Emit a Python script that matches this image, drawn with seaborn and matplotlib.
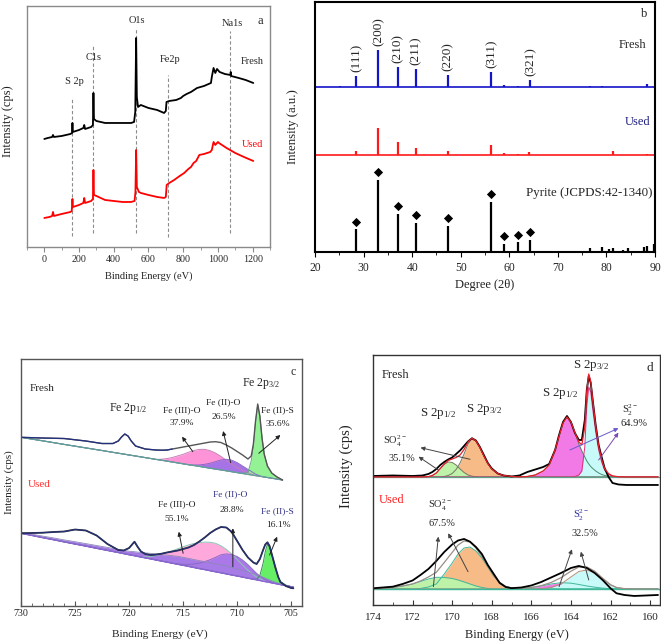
import numpy as np
import matplotlib
matplotlib.use("Agg")
import matplotlib.pyplot as plt
from matplotlib.ticker import MultipleLocator
import seaborn as sns

# ---------------- (a) XPS survey ----------------
survey_be_fresh = [0, 20, 45, 50, 55, 100, 150, 160, 162, 164, 200, 225, 230, 235, 270, 280, 283, 286,
                   300, 350, 400, 450, 500, 517, 524, 529, 533, 540, 556, 600, 650, 690, 700, 704, 720,
                   760, 787, 800, 820, 845, 880, 920, 960, 965, 975, 985, 995, 1010, 1040, 1072, 1074,
                   1076, 1120, 1160, 1204]
survey_fresh = [108, 109, 110, 112, 110, 111, 113, 114, 124, 115, 117, 119, 122, 118, 120, 122, 154, 128,
                126, 124, 124, 124, 124, 125, 135, 209, 150, 140, 142, 139, 137, 134, 136, 145, 146,
                147, 149, 151, 153, 155, 159, 161, 164, 170, 179, 174, 178, 175, 173, 172, 175,
                171, 169, 167, 164]
survey_be_used = [0, 30, 45, 50, 55, 100, 150, 158, 162, 165, 200, 225, 230, 235, 270, 280, 283, 286,
                  300, 350, 400, 450, 500, 520, 525, 529, 533, 545, 556, 600, 650, 690, 700, 705, 720,
                  748, 780, 806, 830, 845, 860, 875, 893, 920, 956, 965, 975, 985, 1000, 1006, 1050,
                  1100, 1150, 1204]
survey_used = [29, 30, 31, 35, 31, 33, 35, 36, 48, 40, 42, 44, 49, 44, 46, 48, 77, 52,
               51, 47, 46, 45, 45, 46, 55, 97, 60, 55, 54, 52, 50, 49, 50, 62, 64,
               67, 71, 74, 78, 80, 84, 86, 92, 93, 95, 97, 105, 102, 105, 104, 99,
               94, 90, 86]
survey_marks = ["S 2p", "C1s", "O1s", "Fe2p", "Na1s"]
survey_mark_be = [162, 283, 529, 711, 1072]
survey_mark_top = [150, 202, 218, 172, 216]
survey_mark_bottom = [11, 14, 14, 10, 14]

# ---------------- (b) XRD ----------------
xrd_fresh_pos = [25.1, 28.5, 33.0, 37.1, 40.8, 47.4, 56.3, 59.0, 61.7, 64.3, 76.6, 79.0, 88.4]
xrd_fresh_h = [0.6, 10.7, 36.7, 20.0, 18.3, 11.7, 15.0, 2.3, 1.3, 6.7, 1.0, 1.0, 3.3]
xrd_used_pos = [28.5, 33.0, 37.1, 40.8, 47.4, 56.3, 59.0, 61.7, 64.0, 81.3, 88.4]
xrd_used_h = [4.0, 27.3, 13.0, 6.7, 4.3, 9.7, 2.3, 1.0, 3.3, 3.7, 1.0]
pyrite_pos = [28.5, 33.0, 37.1, 40.8, 47.4, 50.5, 56.3, 59.0, 61.7, 64.3, 71.8, 76.6, 79.0, 80.6,
              81.3, 83.5, 84.5, 87.8, 88.4, 89.7]
pyrite_h = [22.7, 72.0, 38.3, 29.0, 26.0, 0.7, 50.0, 8.0, 9.7, 12.0, 1.0, 4.3, 4.7, 3.3,
            4.3, 1.7, 4.3, 5.0, 5.7, 8.3]
hkl_labels = ["(111)", "(200)", "(210)", "(211)", "(220)", "(311)", "(321)"]
hkl_pos = [28.5, 33.0, 37.1, 40.8, 47.4, 56.3, 64.3]

# ---------------- (c) Fe 2p ----------------
fe_fresh_be = [730, 728, 726, 724, 722.5, 721.5, 721, 720.7, 720.4, 720.1, 719.8, 719.4, 718.5, 717.5,
               717, 716.5, 716, 715.5, 715, 714.5, 714, 713.5, 713, 712.5, 712, 711.5, 711, 710.5,
               710, 709.5, 709, 708.7, 708.5, 708.3, 708.1, 707.9, 707.7, 707.5, 707.2, 706.8,
               706.3, 705.8]
fe_fresh_bg = [168.7, 165.2, 161.6, 158.1, 155.5, 153.7, 152.8, 152.3, 151.8, 151.2, 150.7, 150.0,
               148.4, 146.6, 145.8, 144.9, 144.0, 143.1, 142.2, 141.3, 140.5, 139.6, 138.7, 137.8,
               136.9, 136.1, 135.2, 134.3, 133.4, 132.5, 131.6, 131.1, 130.8, 130.4, 130.1, 129.7,
               129.4, 129.0, 128.5, 127.8, 126.9, 126.0]
fe_fresh_data = [168.7, 168.0, 167.5, 165.0, 162.5, 162.5, 165.0, 169.0, 172.0, 170.0, 165.0, 160.0,
                 157.0, 156.0, 155.8, 156.0, 157.0, 158.0, 159.0, 160.0, 161.0, 162.0, 163.0, 164.0,
                 164.3, 163.5, 161.0, 158.0, 154.5, 151.0, 147.0, 150.0, 162.0, 185.0, 202.0, 190.0,
                 168.0, 152.0, 140.0, 133.0, 129.0, 126.0]
fe_fresh_fe3o = [0] * 13 + [0, 1, 2.5, 4.5, 7, 9.5, 12.5, 15, 17, 18, 17.5, 16, 13.5, 10.5, 7.5, 5, 3,
                            1.5, 1, 0.5] + [0] * 9
fe_fresh_fe2o = [0] * 19 + [0, 0.5, 1.5, 3, 5, 7.5, 10, 11.5, 11.5, 10, 7.5, 5, 3.5, 2.5, 1.5, 1,
                            0.5] + [0] * 6
fe_fresh_fes = [0] * 30 + [2, 14, 28, 53, 71, 60, 38.6, 23, 11.5, 5, 2, 0]

fe_used_be = [730, 729, 728, 727, 726, 725, 724, 723, 722, 721, 720.5, 720, 719.5, 719.2, 718.9,
              718.5, 718, 717.5, 717, 716.5, 716, 715.5, 715, 714.5, 714, 713.5, 713, 712.5, 712,
              711.5, 711, 710.5, 710, 709.5, 709, 708.5, 708.2, 707.9, 707.6, 707.4, 707.2, 707,
              706.8, 706.5, 706.2, 706, 705.5, 705, 704.8]
fe_used_bg = [72.7, 70.6, 68.4, 66.3, 64.1, 62.0, 59.9, 57.7, 55.6, 53.5, 52.4, 51.3, 50.3, 49.6,
              49.0, 48.1, 47.1, 46.0, 44.9, 43.9, 42.8, 41.7, 40.7, 39.6, 38.5, 37.4, 36.4, 35.3,
              34.2, 33.2, 32.1, 31.0, 30.0, 28.9, 27.8, 26.8, 26.1, 25.5, 24.8, 24.4, 24.0, 23.6,
              23.1, 22.5, 21.9, 21.4, 20.4, 19.3, 18.9]
# purple band between the linear and the Shirley-type background
fe_used_band = [1, 1.2, 1.5, 1.8, 2, 2.3, 2.5, 2.8, 3, 3, 3.2, 3.5, 4, 4.3, 4.6, 5, 5.5, 6, 6.5, 7,
                7.5, 8, 8, 8, 8, 8, 8, 8, 8, 8, 8, 7.5, 7, 6.5, 6, 5.5, 5, 4.5, 4, 3.5,
                3, 2.5, 2, 1.5, 1, 0.7, 0.3, 0, 0]
fe_used_data = [72.7, 73.0, 73.3, 74.0, 74.5, 76.5, 75.5, 70.5, 62.0, 56.0, 55.5, 58.0, 64.3, 59.0,
                54.5, 52.0, 51.0, 51.5, 52.3, 53.5, 54.5, 55.5, 57.0, 58.5, 61.0, 64.5, 68.5, 73.0,
                76.5, 79.0, 78.5, 74.0, 65.0, 56.0, 48.5, 43.5, 42.0, 47.0, 56.0, 61.5, 63.7, 60.0,
                52.0, 40.0, 29.0, 24.0, 20.0, 18.0, 17.7]
fe_used_fe3o = [0] * 15 + [1, 2.5, 4.5, 7, 9.5, 12.5, 15.5, 18.5, 21.5, 24, 26, 27.5, 28.5, 28.5, 27,
                           24.5, 21, 16.5, 12, 8, 4.5, 3, 2, 1] + [0] * 10
fe_used_fe2o = [0] * 21 + [0.5, 1, 2, 3.5, 5.5, 8, 11, 14.5, 18, 20, 20.5, 19.5, 17, 13.5, 9, 6.5, 4.5,
                           3, 2, 1.5, 1, 0.5] + [0] * 6
fe_used_fes = [0] * 36 + [0.5, 5, 18, 30, 38, 35, 28, 16, 7, 3, 0.5, 0, 0]

# ---------------- (d) S 2p ----------------
s_fresh_be = [174, 173, 172, 171.5, 171.2, 171, 170.8, 170.6, 170.4, 170.2, 170, 169.8, 169.6, 169.4,
              169.2, 169, 168.8, 168.6, 168.4, 168.2, 168, 167.7, 167.4, 167, 166.6, 166.2, 165.8,
              165.4, 165.1, 164.8, 164.6, 164.4, 164.2, 164, 163.8, 163.6, 163.45, 163.3, 163.2,
              163.1, 163, 162.9, 162.75, 162.6, 162.45, 162.3, 162.1, 161.9, 161.6, 161.2, 160.5,
              159.6]
s_fresh_base = 128.0
s_fresh_data = [129, 129.5, 129, 129.5, 131, 133, 136, 140, 143, 145.5, 147.5, 151, 154.5, 159, 163.5,
                166.7, 164.5, 158, 150, 142, 136.5, 131.5, 129.5, 128.5, 129.5, 133, 135.5, 138, 141,
                155, 170, 183, 189, 183, 172, 165, 165, 185, 215, 229, 222, 205, 180, 160, 148, 137,
                128, 122, 120.5, 120, 120, 120]
s_fresh_so4_12 = [0] * 4 + [0.3, 1.5, 4, 8.5, 12.5, 15, 14.5, 12, 8, 4.5, 2, 0.8, 0.2] + [0] * 35
s_fresh_so4_32 = [0] * 8 + [0.5, 1.5, 3.5, 7.5, 14, 23, 33, 38, 36, 29.5, 21, 13.5, 8, 3.5, 1.5,
                            0.5] + [0] * 28
s_fresh_s2_12 = [0] * 25 + [0.5, 2, 6, 12, 27, 41, 54, 60, 55, 44, 33, 26, 20, 16, 13, 10.5, 8.5, 6,
                            4, 2.5, 1.5, 0.8, 0.3] + [0] * 4
s_fresh_s2_32 = [0] * 34 + [0.5, 2, 6, 30, 70, 90, 85, 68, 45, 27, 15, 7, 2.5, 0.8, 0.2] + [0] * 3

s_used_be = [174, 173.5, 173, 172.5, 172, 171.6, 171.2, 170.8, 170.4, 170, 169.7, 169.4, 169.1, 168.8,
             168.5, 168.2, 167.9, 167.6, 167.3, 167, 166.5, 166, 165.5, 165, 164.5, 164, 163.6,
             163.2, 162.8, 162.4, 162, 161.7, 161.3, 160.8, 160.2, 159.6]
s_used_base = 16.0
s_used_data = [16.7, 17.5, 18.3, 21, 24.5, 30, 36, 44, 53, 60.5, 64.5, 66, 63.3, 58, 51, 40, 31, 22, 18,
               16.8, 17.5, 19.5, 23, 27.5, 32, 37, 39, 37, 32, 25, 16.7, 11.7, 10, 9, 9.5, 10]
s_used_so4_a = [0, 0.5, 1.5, 3, 5, 7.5, 10, 11.7, 11.5, 10.5, 9, 7, 5, 3, 1.5, 0.5] + [0] * 20
s_used_so4_b = [0] * 5 + [0.5, 2, 5, 15, 26, 35, 41, 42, 38, 31, 22, 13, 6.5, 2.5, 1, 0.3] + [0] * 15
s_used_s2_a = [0] * 20 + [0.5, 1.5, 3, 5, 6.3, 5.8, 4.5, 3, 1.8, 0.8, 0.3] + [0] * 5
s_used_s2_b = [0] * 22 + [0.3, 1.5, 5, 12, 17.5, 19, 16, 10, 4, 1.5, 0.3] + [0] * 3

# ---------------- style ----------------
sns.set_style("ticks")
plt.rcParams["font.family"] = ["Liberation Serif", "DejaVu Serif"]
plt.rcParams["mathtext.fontset"] = "custom"
plt.rcParams["mathtext.rm"] = "Liberation Serif"
plt.rcParams["mathtext.it"] = "Liberation Serif:italic"
plt.rcParams["mathtext.bf"] = "Liberation Serif:bold"

PINK, PURPLE, LGREEN = "#ff93d8", "#a673e6", "#93f293"
SGREEN, ORANGE, MAGENTA, CYAN = "#bdf2a8", "#f6bb86", "#f27ae6", "#c8fafa"
NAVY = "#23307f"


def curve(ax, x, y, color, lw):
    sns.lineplot(x=x, y=y, ax=ax, color=color, linewidth=lw, sort=False, estimator=None)


def component(ax, x, base, height, color, edge, lw=0.7):
    top = np.asarray(base, dtype=float) + np.asarray(height, dtype=float)
    ax.fill_between(x, base, top, color=color, lw=0)
    ax.plot(x, top, color=edge, lw=lw)


def arrow(ax, tail, head, color="#222222"):
    ax.annotate("", xy=head, xytext=tail,
                arrowprops=dict(arrowstyle="-|>", color=color, lw=0.7, mutation_scale=6,
                                shrinkA=0, shrinkB=0))


def frame(ax, color, lw, direction, tsize, pad, major, minor, xlim, ylim):
    ax.set_xlim(*xlim)
    ax.set_ylim(*ylim)
    ax.set_yticks([])
    ax.xaxis.set_major_locator(MultipleLocator(major))
    ax.xaxis.set_minor_locator(MultipleLocator(minor))
    ax.tick_params(axis="x", which="major", direction=direction, length=3.5, width=0.8,
                   labelsize=tsize, pad=pad, color=color, bottom=True, top=False)
    ax.tick_params(axis="x", which="minor", direction=direction, length=2, width=0.6,
                   color=color, bottom=True, top=False)
    for s in ax.spines.values():
        s.set_color(color)
        s.set_linewidth(lw)
        s.set_visible(True)


def labels(ax, xlabel, xsize, xpos, ylabel, ysize, ypos):
    # seaborn hides the y label when there are no tick labels, so switch it back on
    ax.set_xlabel(xlabel, fontsize=xsize, color="#222222")
    ax.set_ylabel(ylabel, fontsize=ysize, color="#222222")
    ax.xaxis.label.set_visible(True)
    ax.yaxis.label.set_visible(True)
    ax.xaxis.set_label_coords(*xpos)
    ax.yaxis.set_label_coords(*ypos)


fig = plt.figure(figsize=(6.61, 6.44), dpi=100)
fig.patch.set_facecolor("white")

# ---------- (a) ----------
ax = fig.add_axes([0.0408, 0.6165, 0.3676, 0.3742])
frame(ax, "#8a8a8a", 1.0, "out", 7.2, 2, 200, 100, (-100, 1300), (0, 241))
ax.vlines(survey_mark_be, survey_mark_bottom, survey_mark_top, colors="#8c8c8c",
          linestyles=(0, (3, 2)), lw=0.8)
curve(ax, survey_be_fresh, survey_fresh, "black", 1.3)
curve(ax, survey_be_used, survey_used, "#ff0000", 1.3)
for lab, x, y in zip(survey_marks, [173, 283, 531, 722, 1085], [165, 189, 226, 187, 223]):
    ax.text(x, y, lab, ha="center", va="center", fontsize=7.5)
ax.text(1200, 185, "Fresh", ha="center", va="center", fontsize=7.5)
ax.text(1198, 102, "Used", ha="center", va="center", fontsize=7.5, color="#ff0000")
ax.text(1246, 226, "a", ha="center", va="center", fontsize=9)
labels(ax, "Binding Energy (eV)", 7.5, (0.5, -0.1), "Intensity (cps)", 9.0, (-0.055, 0.52))

# ---------- (b) ----------
ax = fig.add_axes([0.4766, 0.6087, 0.5144, 0.3882])
frame(ax, "black", 1.5, "out", 8.4, 4, 10, 5, (20, 90), (0, 250))
ax.hlines(165, 20, 90, colors="#1414c8", lw=1.2)
ax.vlines(xrd_fresh_pos, 165, 165 + np.array(xrd_fresh_h), colors="#1414c8", lw=1.6)
ax.hlines(97, 20, 90, colors="#ff1a1a", lw=1.2)
ax.vlines(xrd_used_pos, 97, 97 + np.array(xrd_used_h), colors="#ff1a1a", lw=1.6)
ax.hlines(0.3, 20, 90, colors="black", lw=1.0)
ax.vlines(pyrite_pos, 0.3, np.array(pyrite_h), colors="black", lw=1.6)
p_pos = np.array(pyrite_pos)
p_h = np.array(pyrite_h)
marked = (p_pos < 65) & (p_h > 5)
sns.scatterplot(x=p_pos[marked], y=p_h[marked] + 7.5, ax=ax, marker="D", s=22,
                color="black", edgecolor="black", linewidth=0)
for lab, pos in zip(hkl_labels, hkl_pos):
    h = xrd_fresh_h[xrd_fresh_pos.index(pos)]
    ax.text(pos, 165 + h + 4, lab, rotation=90, ha="center", va="bottom", fontsize=9.5)
ax.text(88.3, 207, "Fresh", ha="right", va="center", fontsize=9)
ax.text(89.1, 130, "Used", ha="right", va="center", fontsize=9, color="#202080")
ax.text(89.5, 59.3, "Pyrite (JCPDS:42-1340)", ha="right", va="center", fontsize=9.3)
ax.text(87.7, 238, "b", ha="center", va="center", fontsize=9)
labels(ax, "Degree (2θ)", 9, (0.5, -0.108), "Intensity (a.u.)", 9.2, (-0.047, 0.5))

# ---------- (c) ----------
ax = fig.add_axes([0.0318, 0.0590, 0.4251, 0.3835])
frame(ax, "#555555", 1.0, "in", 7.2, 2, 5, 1, (730, 704), (0, 247))
fe_fb = np.array(fe_fresh_bg)
component(ax, fe_fresh_be, fe_fb, fe_fresh_fe3o, PINK, "#c77fb8")
component(ax, fe_fresh_be, fe_fb, fe_fresh_fe2o, PURPLE, "#8a68c8")
component(ax, fe_fresh_be, fe_fb, fe_fresh_fes, LGREEN, "#6aa882")
ax.plot(fe_fresh_be, fe_fb, color="#5f9f9a", lw=0.9)
curve(ax, fe_fresh_be, fe_fresh_data, "#555555", 1.0)
left = np.array(fe_fresh_be) >= 716
curve(ax, np.array(fe_fresh_be)[left], np.array(fe_fresh_data)[left], NAVY, 0.9)

fe_ub = np.array(fe_used_bg)
component(ax, fe_used_be, fe_ub, fe_used_fe3o, "#ffa8dc", "#88c8b0")
component(ax, fe_used_be, fe_ub, fe_used_fe2o, "#ab78ea", "#8a68c8")
component(ax, fe_used_be, fe_ub, fe_used_fes, "#66ee66", "#3a8a5a")
component(ax, fe_used_be, fe_ub, fe_used_band, "#a77be6", "#8a8ab8", lw=0.6)
ax.plot(fe_used_be, fe_ub, color="#8f63d8", lw=1.0)
curve(ax, fe_used_be, fe_used_data, "#333333", 1.3)
curve(ax, fe_used_be, fe_used_data, NAVY, 0.8)

ax.text(729.2, 217.7, "Fresh", ha="left", va="center", fontsize=8)
ax.text(720.1, 197.7, r"Fe 2p$_{\mathrm{1/2}}$", ha="center", va="center", fontsize=8.5)
ax.text(707.8, 222.7, r"Fe 2p$_{\mathrm{3/2}}$", ha="center", va="center", fontsize=8.5)
ax.text(704.8, 234.3, "c", ha="center", va="center", fontsize=8.5)
for lab, x, y, col in [("Fe (III)-O", 715.1, 196, "#222222"), ("37.9%", 715.1, 182.7, "#222222"),
                       ("Fe (II)-O", 711.3, 204.3, "#222222"), ("26.5%", 711.2, 189.3, "#222222"),
                       ("Fe (II)-S", 706.3, 196, "#222222"), ("35.6%", 706.2, 182, "#222222"),
                       ("Fe (III)-O", 715.6, 102, "#222222"), ("55.1%", 715.6, 86.7, "#222222"),
                       ("Fe (II)-O", 710.6, 112, "#33338a"), ("28.8%", 710.5, 96, "#222222"),
                       ("Fe (II)-S", 706.3, 95, "#33338a"), ("16.1%", 706.2, 81, "#222222")]:
    ax.text(x, y, lab, ha="center", va="center", fontsize=6.8, color=col)
ax.text(729.4, 121.7, "Used", ha="left", va="center", fontsize=8, color="#ff3030")
for tail, head in [((714.1, 154.3), (715.1, 169.3)), ((710.6, 143.3), (711.3, 175)),
                   ((708.0, 152.7), (706.0, 171)), ((715.0, 52.7), (715.4, 74.3)),
                   ((710.4, 39.3), (710.4, 77.7)), ((707.0, 51), (706.3, 69.3))]:
    arrow(ax, tail, head)
labels(ax, "Binding Energy (eV)", 8.2, (0.495, -0.093), "Intensity (cps)", 8.0, (-0.025, 0.5))

# ---------- (d) ----------
ax = fig.add_axes([0.5643, 0.0606, 0.4342, 0.3882])
frame(ax, "#333333", 1.0, "in", 8, 6, 2, 1, (174, 159.5), (0, 250))
component(ax, s_fresh_be, s_fresh_base, s_fresh_so4_32, ORANGE, "#777766")
component(ax, s_fresh_be, s_fresh_base, s_fresh_so4_12, SGREEN, "#777766")
component(ax, s_fresh_be, s_fresh_base, s_fresh_s2_12, MAGENTA, "#4f8a6a")
component(ax, s_fresh_be, s_fresh_base, s_fresh_s2_32, CYAN, "#e0307a")
ax.hlines(s_fresh_base, 174, 159.5, colors="#5f9f8a", lw=0.9)
s_fresh_env = s_fresh_base + np.array(s_fresh_so4_12) + np.array(s_fresh_so4_32) \
    + np.array(s_fresh_s2_12) + np.array(s_fresh_s2_32)
curve(ax, s_fresh_be, s_fresh_data, "black", 1.3)
curve(ax, s_fresh_be, s_fresh_env, "#e5202a", 0.9)

component(ax, s_used_be, s_used_base, s_used_so4_b, ORANGE, "#3fb89a")
component(ax, s_used_be, s_used_base, s_used_so4_a, SGREEN, "#3fb89a")
component(ax, s_used_be, s_used_base, s_used_s2_a, MAGENTA, "#3fb89a")
component(ax, s_used_be, s_used_base, s_used_s2_b, CYAN, "#b0907a")
ax.hlines(s_used_base, 174, 159.5, colors="#3fb89a", lw=1.0)
s_used_env = s_used_base + np.array(s_used_so4_a) + np.array(s_used_so4_b) \
    + np.array(s_used_s2_a) + np.array(s_used_s2_b)
curve(ax, s_used_be, s_used_env, "#9a8f86", 0.9)
curve(ax, s_used_be, s_used_data, "black", 1.3)

ax.text(173.56, 230, "Fresh", ha="left", va="center", fontsize=9)
for lab, x, y in [(r"S 2p$_{\mathrm{1/2}}$", 170.7, 191.7), (r"S 2p$_{\mathrm{3/2}}$", 168.4, 195),
                  (r"S 2p$_{\mathrm{1/2}}$", 164.55, 211.7), (r"S 2p$_{\mathrm{3/2}}$", 163.0, 239)]:
    ax.text(x, y, lab, ha="center", va="center", fontsize=9.3)
ax.text(160.0, 236.7, "d", ha="center", va="center", fontsize=9.5)
ax.text(172.9, 163.3, r"SO$_{\mathrm{4}}^{\mathrm{2-}}$", ha="center", va="center", fontsize=7.5)
ax.text(172.55, 146.7, "35.1%", ha="center", va="center", fontsize=7.5)
ax.text(161.0, 195, r"S$_{\mathrm{2}}^{\mathrm{2-}}$", ha="center", va="center", fontsize=7.5)
ax.text(160.8, 181.7, "64.9%", ha="center", va="center", fontsize=7.5)
ax.text(173.7, 105, "Used", ha="left", va="center", fontsize=9, color="#ff2020")
ax.text(170.6, 100, r"SO$_{\mathrm{4}}^{\mathrm{2-}}$", ha="center", va="center", fontsize=7.5)
ax.text(170.5, 81.7, "67.5%", ha="center", va="center", fontsize=7.5)
ax.text(163.5, 90, r"S$_{\mathrm{2}}^{\mathrm{2-}}$", ha="center", va="center", fontsize=7.5,
        color="#2a2a9a")
ax.text(163.3, 71.7, "32.5%", ha="center", va="center", fontsize=7.5)
for tail, head, col in [((169.1, 145.7), (171.6, 157.3), "#444444"),
                        ((170.7, 135), (171.7, 148.3), "#444444"),
                        ((164.05, 155), (161.6, 176.7), "#6a5acd"),
                        ((162.6, 145), (161.6, 172.3), "#7a4ab0"),
                        ((170.95, 18.3), (170.7, 68.3), "#444444"),
                        ((169.2, 33.3), (170.2, 71.7), "#444444"),
                        ((164.6, 18.3), (163.95, 55.7), "#444444"),
                        ((163.1, 25), (163.5, 53.3), "#444444")]:
    arrow(ax, tail, head, col)
labels(ax, "Binding Energy (eV)", 8.8, (0.5, -0.096), "Intensity (cps)", 10.5, (-0.07, 0.557))

fig.savefig("out.png", dpi=100)
